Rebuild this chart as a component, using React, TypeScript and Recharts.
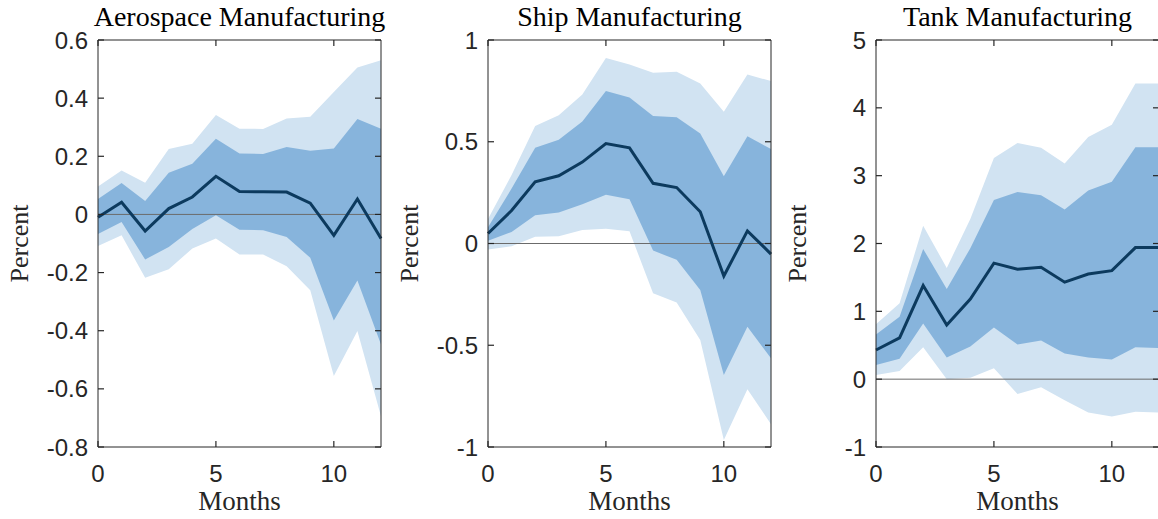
import React from 'react';
import { ComposedChart, Area, Line, XAxis, YAxis, ReferenceLine } from 'recharts';

const months = [0, 1, 2, 3, 4, 5, 6, 7, 8, 9, 10, 11, 12];
const xTicks = [0, 5, 10];

const aeroIrf = [-0.01, 0.042, -0.057, 0.02, 0.06, 0.131, 0.079, 0.078, 0.077, 0.039, -0.072, 0.053, -0.083];
const aeroHi68 = [0.053, 0.108, 0.046, 0.143, 0.174, 0.26, 0.21, 0.208, 0.232, 0.219, 0.227, 0.328, 0.295];
const aeroHi90 = [0.096, 0.151, 0.109, 0.225, 0.243, 0.342, 0.295, 0.294, 0.33, 0.336, 0.421, 0.505, 0.53];
const aeroLo68 = [-0.067, -0.026, -0.155, -0.112, -0.05, -0.003, -0.053, -0.054, -0.078, -0.149, -0.365, -0.227, -0.447];
const aeroLo90 = [-0.109, -0.072, -0.218, -0.189, -0.117, -0.083, -0.138, -0.138, -0.178, -0.261, -0.556, -0.401, -0.694];
const aeroTicks = [-0.8, -0.6, -0.4, -0.2, 0, 0.2, 0.4, 0.6];

const shipIrf = [0.049, 0.162, 0.303, 0.333, 0.4, 0.491, 0.47, 0.296, 0.275, 0.156, -0.16, 0.062, -0.052];
const shipHi68 = [0.08, 0.27, 0.47, 0.51, 0.6, 0.749, 0.717, 0.626, 0.621, 0.54, 0.331, 0.527, 0.464];
const shipHi90 = [0.12, 0.336, 0.577, 0.63, 0.732, 0.912, 0.88, 0.839, 0.844, 0.786, 0.647, 0.83, 0.798];
const shipLo68 = [0.013, 0.057, 0.139, 0.152, 0.193, 0.239, 0.218, -0.035, -0.08, -0.228, -0.646, -0.409, -0.564];
const shipLo90 = [-0.03, -0.013, 0.033, 0.036, 0.066, 0.072, 0.06, -0.245, -0.29, -0.474, -0.966, -0.716, -0.888];
const shipTicks = [-1, -0.5, 0, 0.5, 1];

const tankIrf = [0.43, 0.61, 1.38, 0.8, 1.18, 1.71, 1.62, 1.65, 1.43, 1.55, 1.6, 1.94, 1.94];
const tankHi68 = [0.66, 0.92, 1.92, 1.33, 1.93, 2.64, 2.76, 2.71, 2.5, 2.78, 2.91, 3.42, 3.42];
const tankHi90 = [0.81, 1.12, 2.26, 1.64, 2.36, 3.26, 3.48, 3.41, 3.18, 3.57, 3.75, 4.36, 4.36];
const tankLo68 = [0.21, 0.3, 0.82, 0.32, 0.48, 0.76, 0.51, 0.57, 0.38, 0.32, 0.29, 0.47, 0.46];
const tankLo90 = [0.06, 0.12, 0.47, 0.0, 0.02, 0.16, -0.22, -0.12, -0.31, -0.49, -0.55, -0.48, -0.49];
const tankTicks = [-1, 0, 1, 2, 3, 4, 5];

const LIGHT = '#d1e3f2';
const DARK = '#87b4dc';
const LINE = '#0c3a5e';
const AXIS = '#262626';
const SANS = 'Liberation Sans, Arial, sans-serif';
const SERIF = 'Liberation Serif, Times New Roman, serif';
const TL = 6;

// layout constants
const CHART_W = 390;
const Y_AXIS_W = 98;
const RIGHT_AXIS_W = 1;
const MARGIN_R = 8;
const PLOT_W = CHART_W - Y_AXIS_W - RIGHT_AXIS_W - MARGIN_R;

const fmt = (v: number) => String(Number(v.toFixed(2)));

const BottomTick = (p: any) => (
  <g>
    <path d={`M${p.x},${p.y}V${p.y - TL}`} stroke={AXIS} strokeWidth={1.2} fill="none" />
    <text x={p.x} y={p.y + 35} textAnchor="middle" fill={AXIS} fontSize={24} fontFamily={SANS}>
      {fmt(p.payload.value)}
    </text>
  </g>
);
const TopTick = (p: any) => (
  <g>
    <path d={`M${p.x},${p.y}V${p.y + TL}`} stroke={AXIS} strokeWidth={1.2} fill="none" />
  </g>
);
const LeftTick = (p: any) => (
  <g>
    <path d={`M${p.x},${p.y}H${p.x + TL}`} stroke={AXIS} strokeWidth={1.2} fill="none" />
    <path d={`M${p.x + PLOT_W},${p.y}H${p.x + PLOT_W - TL}`} stroke={AXIS} strokeWidth={1.2} fill="none" />
    <text x={p.x - 10} y={p.y + 8.5} textAnchor="end" fill={AXIS} fontSize={24} fontFamily={SANS}>
      {fmt(p.payload.value)}
    </text>
  </g>
);

type PanelProps = {
  title: string;
  irf: number[];
  lo68: number[];
  hi68: number[];
  lo90: number[];
  hi90: number[];
  yTicks: number[];
  left: number;
};

function Panel({ title, irf, lo68, hi68, lo90, hi90, yTicks, left }: PanelProps) {
  const data = months.map((m, i) => ({
    m,
    irf: irf[i],
    b90: [lo90[i], hi90[i]],
    b68: [lo68[i], hi68[i]],
  }));
  const domain = [yTicks[0], yTicks[yTicks.length - 1]];
  return (
    <div style={{ position: 'absolute', left, top: 0 }}>
      <ComposedChart width={CHART_W} height={519} data={data} margin={{ top: 39, right: MARGIN_R, bottom: 0, left: 0 }}>
        <Area xAxisId="b" yAxisId="l" type="linear" dataKey="b90" stroke="none" fill={LIGHT} fillOpacity={1} isAnimationActive={false} />
        <Area xAxisId="b" yAxisId="l" type="linear" dataKey="b68" stroke="none" fill={DARK} fillOpacity={1} isAnimationActive={false} />
        <ReferenceLine xAxisId="b" yAxisId="l" y={0} stroke="#6b6b6b" strokeWidth={1} />
        <Line xAxisId="b" yAxisId="l" type="linear" dataKey="irf" stroke={LINE} strokeWidth={3} dot={false} isAnimationActive={false} />
        <XAxis
          xAxisId="b"
          dataKey="m"
          type="number"
          domain={[0, 12]}
          ticks={xTicks}
          interval={0}
          height={72}
          tickSize={0}
          tickMargin={0}
          tickLine={false}
          stroke={AXIS}
          tick={<BottomTick />}
          label={{ value: 'Months', position: 'insideBottom', offset: 9, fill: AXIS, fontSize: 27, fontFamily: SERIF }}
        />
        <XAxis
          xAxisId="t"
          orientation="top"
          type="number"
          domain={[0, 12]}
          ticks={xTicks}
          interval={0}
          height={1}
          tickSize={0}
          tickMargin={0}
          tickLine={false}
          stroke={AXIS}
          tick={<TopTick />}
          label={{ value: title, position: 'top', offset: 13, fill: '#000', fontSize: 28, fontFamily: SERIF }}
        />
        <YAxis
          yAxisId="l"
          type="number"
          domain={domain}
          ticks={yTicks}
          interval={0}
          width={Y_AXIS_W}
          tickSize={0}
          tickMargin={0}
          tickLine={false}
          stroke={AXIS}
          tick={<LeftTick />}
          label={{ value: 'Percent', angle: -90, position: 'insideLeft', offset: 19, fill: AXIS, fontSize: 26, fontFamily: SERIF, style: { textAnchor: 'middle' } }}
        />
        <YAxis
          yAxisId="r"
          orientation="right"
          type="number"
          domain={domain}
          width={RIGHT_AXIS_W}
          tickLine={false}
          stroke={AXIS}
          tick={false}
        />
      </ComposedChart>
    </div>
  );
}

export default function App() {
  return (
    <div style={{ position: 'absolute', left: 0, top: 0, width: 1158, height: 519, overflow: 'hidden', background: '#fff' }}>
      <Panel title="Aerospace Manufacturing" irf={aeroIrf} lo68={aeroLo68} hi68={aeroHi68} lo90={aeroLo90} hi90={aeroHi90} yTicks={aeroTicks} left={0} />
      <Panel title="Ship Manufacturing" irf={shipIrf} lo68={shipLo68} hi68={shipHi68} lo90={shipLo90} hi90={shipHi90} yTicks={shipTicks} left={390} />
      <Panel title="Tank Manufacturing" irf={tankIrf} lo68={tankLo68} hi68={tankHi68} lo90={tankLo90} hi90={tankHi90} yTicks={tankTicks} left={778} />
    </div>
  );
}
